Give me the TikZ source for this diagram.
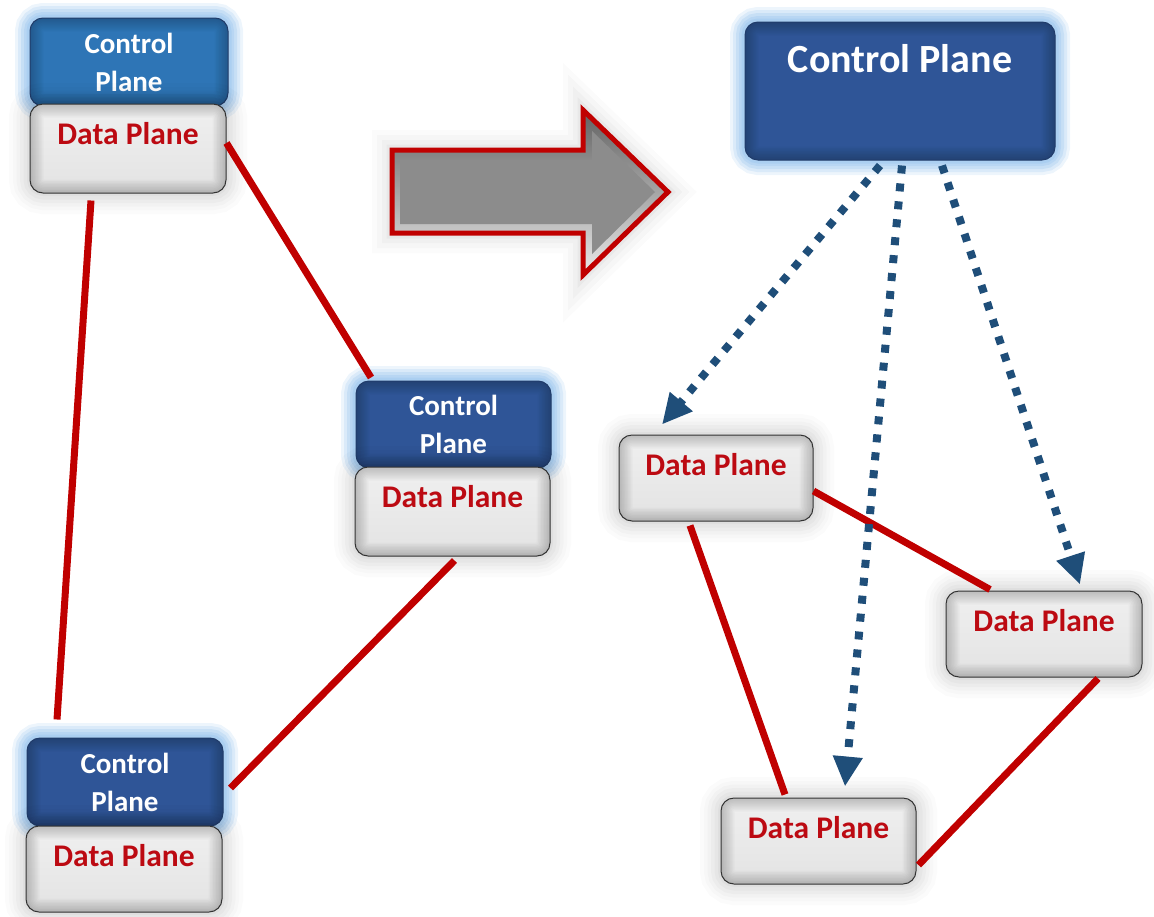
\documentclass[tikz,border=0pt]{standalone}
\usepackage{fontspec}
\setmainfont{Carlito}
\usetikzlibrary{arrows.meta,calc}
\definecolor{cpblue}{HTML}{2F5597}
\definecolor{cplight}{HTML}{2E75B6}
\definecolor{glowblue}{HTML}{9CC6EE}
\definecolor{dpred}{HTML}{BC0A12}
\definecolor{linkred}{HTML}{C00000}
\definecolor{ctrlarrow}{HTML}{1F4E79}
\tikzset{
  plane/.style={rectangle, rounded corners=13pt, inner sep=0pt,
    minimum width=196pt, minimum height=87pt, line width=1pt},
  innershade/.style={path picture={
    \foreach \w in {3,6,...,27}{
      \draw[line width=\w pt, black, opacity=0.024, rounded corners=13pt]
        (path picture bounding box.south west) rectangle (path picture bounding box.north east);}}},
  glow/.style={
    preaction={draw=glowblue, line width=30pt, opacity=0.18},
    preaction={draw=glowblue, line width=24pt, opacity=0.24},
    preaction={draw=glowblue, line width=18pt, opacity=0.3},
    preaction={draw=glowblue, line width=12pt, opacity=0.36},
    preaction={draw=glowblue, line width=7pt, opacity=0.45}},
  haze/.style={
    preaction={draw=black, line width=42pt, opacity=0.014},
    preaction={draw=black, line width=34pt, opacity=0.017},
    preaction={draw=black, line width=27pt, opacity=0.02},
    preaction={draw=black, line width=20pt, opacity=0.022},
    preaction={draw=black, line width=13pt, opacity=0.025},
    preaction={draw=black, line width=6pt, opacity=0.03}},
  ctrl/.style={plane, glow, fill=cpblue, draw=cpblue!70!black, innershade,
    text=white, font=\fontsize{29}{38}\selectfont\bfseries, align=center},
  data/.style={plane, haze, top color=white!94!black, bottom color=white!89!black,
    draw=black!80, innershade, text=dpred,
    font=\fontsize{31.5}{34}\selectfont\bfseries, text height=40pt, text depth=47pt},
  link/.style={draw=linkred, line width=7pt},
  push/.style={draw=ctrlarrow, line width=8pt, dash pattern=on 8pt off 10pt,
    -{Triangle[length=30pt,width=28pt]}},
}
\begin{document}
\begin{tikzpicture}[x=1pt, y=-1pt]
\useasboundingbox (0,0) rectangle (1154,916);

% distributed routers: each has its own control plane on top of its data plane
\node[ctrl, fill=cplight, minimum width=198pt, minimum height=88pt] (cp1) at (129,62) {Control\\Plane};
\node[data, minimum height=89pt, text depth=49pt] (dp1) at (128,148.5) {Data Plane};
\node[ctrl, minimum width=195pt] (cp2) at (453.5,424.5) {Control\\Plane};
\node[data, minimum width=195pt, text depth=49pt] (dp2) at (452.5,511.5) {Data Plane};
\node[ctrl, minimum height=88pt] (cp3) at (125,782) {Control\\Plane};
\node[data, minimum height=86pt, text depth=46pt] (dp3) at (124,869) {Data Plane};

% links between the distributed routers
\draw[link] ([xshift=-37pt,yshift=-7pt]dp1.south) -- ([xshift=-68pt,yshift=18pt]cp3.north);
\draw[link] ([yshift=5.5pt]dp1.east) -- ([xshift=-82.5pt,yshift=3pt]cp2.north);
\draw[link] ([xshift=2pt,yshift=-4pt]dp2.south) -- ([xshift=7pt,yshift=-6pt]cp3.east);

% transition arrow
\path[preaction={draw=black, line width=40pt, opacity=0.015},
      preaction={draw=black, line width=30pt, opacity=0.02},
      preaction={draw=black, line width=20pt, opacity=0.025},
      preaction={draw=black, line width=11pt, opacity=0.03}]
  (392,150) -- (583,150) -- (583,110) -- (668,192) -- (583,275) -- (583,233) -- (392,233) -- cycle;
\shade[top color=black!62, bottom color=black!8]
  (392,150) -- (583,150) -- (583,110) -- (668,192) -- (583,275) -- (583,233) -- (392,233) -- cycle;
\fill[black!45]
  (400,160) -- (592,160) -- (592,131) -- (655,192) -- (592,254) -- (592,224) -- (400,224) -- cycle;
\draw[linkred, line width=5pt, line join=miter]
  (392,150) -- (583,150) -- (583,110) -- (668,192) -- (583,275) -- (583,233) -- (392,233) -- cycle;

% centralised control plane and its data planes
\node[ctrl, minimum width=310pt, minimum height=138pt,
  font=\fontsize{40}{44}\selectfont\bfseries, text height=50pt, text depth=88pt] (cpc) at (900,91) {Control Plane};
\node[data, minimum width=194pt, minimum height=86pt, text depth=46pt] (dpa) at (716,478) {Data Plane};
\node[data, minimum height=86pt, text depth=46pt] (dpb) at (1044,634) {Data Plane};
\node[data, minimum width=195pt, minimum height=86pt, text depth=46pt] (dpc) at (818.5,841) {Data Plane};

\draw[link] ([xshift=-26pt,yshift=-4pt]dpa.south) -- ([xshift=-33.5pt,yshift=3pt]dpc.north);
\draw[link] ([yshift=-13pt]dpa.east) -- ([xshift=-54pt,yshift=1pt]dpb.north);
\draw[link] ([xshift=54pt,yshift=-1pt]dpb.south) -- ([xshift=2pt,yshift=-24pt]dpc.east);

% control channels
\draw[push] ([xshift=-20pt,yshift=-5pt]cpc.south) -- ([xshift=-54pt,yshift=10pt]dpa.north);
\draw[push] ([xshift=2pt,yshift=-5pt]cpc.south) -- ([xshift=26.5pt,yshift=11pt]dpc.north);
\draw[push] ([xshift=42pt,yshift=-5pt]cpc.south) -- ([xshift=36pt,yshift=6pt]dpb.north);
\end{tikzpicture}
\end{document}
